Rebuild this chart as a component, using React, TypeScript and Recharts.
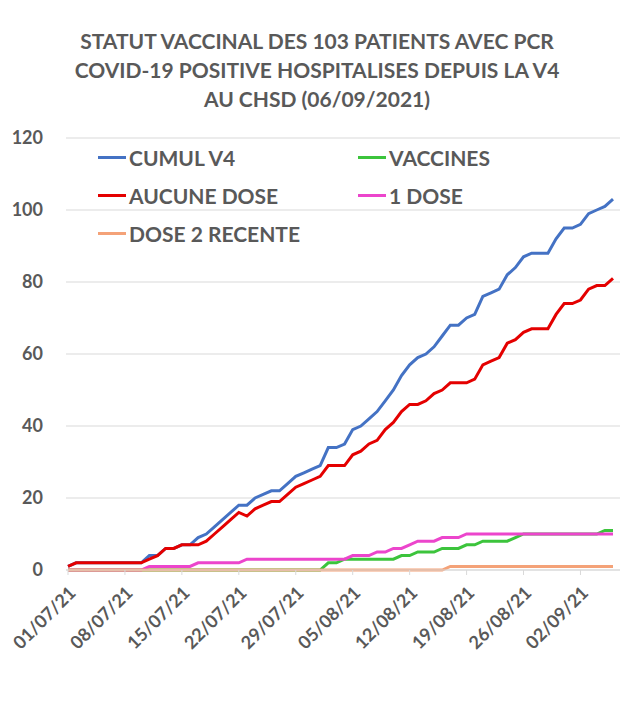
import React from 'react';
import { LineChart, Line, XAxis, YAxis, CartesianGrid } from 'recharts';

// one point per day, 01/07/21 -> 06/09/21
const startDay = new Date(2021, 6, 1);
const dates: string[] = Array.from({ length: 68 }, (_, i) => {
  const d = new Date(startDay.getFullYear(), startDay.getMonth(), startDay.getDate() + i);
  const dd = String(d.getDate()).padStart(2, '0');
  const mm = String(d.getMonth() + 1).padStart(2, '0');
  return `${dd}/${mm}/21`;
});

const cumulV4 = [
  1, 2, 2, 2, 2, 2, 2, 2, 2, 2, 4, 4, 6, 6, 7, 7, 9, 10, 12, 14,
  16, 18, 18, 20, 21, 22, 22, 24, 26, 27, 28, 29, 34, 34, 35, 39, 40, 42, 44, 47,
  50, 54, 57, 59, 60, 62, 65, 68, 68, 70, 71, 76, 77, 78, 82, 84, 87, 88, 88, 88,
  92, 95, 95, 96, 99, 100, 101, 103,
];
const vaccines = [
  0, 0, 0, 0, 0, 0, 0, 0, 0, 0, 0, 0, 0, 0, 0, 0, 0, 0, 0, 0,
  0, 0, 0, 0, 0, 0, 0, 0, 0, 0, 0, 0, 2, 2, 3, 3, 3, 3, 3, 3,
  3, 4, 4, 5, 5, 5, 6, 6, 6, 7, 7, 8, 8, 8, 8, 9, 10, 10, 10, 10,
  10, 10, 10, 10, 10, 10, 11, 11,
];
const aucuneDose = [
  1, 2, 2, 2, 2, 2, 2, 2, 2, 2, 3, 4, 6, 6, 7, 7, 7, 8, 10, 12,
  14, 16, 15, 17, 18, 19, 19, 21, 23, 24, 25, 26, 29, 29, 29, 32, 33, 35, 36, 39,
  41, 44, 46, 46, 47, 49, 50, 52, 52, 52, 53, 57, 58, 59, 63, 64, 66, 67, 67, 67,
  71, 74, 74, 75, 78, 79, 79, 81,
];
const uneDose = [
  0, 0, 0, 0, 0, 0, 0, 0, 0, 0, 1, 1, 1, 1, 1, 1, 2, 2, 2, 2,
  2, 2, 3, 3, 3, 3, 3, 3, 3, 3, 3, 3, 3, 3, 3, 4, 4, 4, 5, 5,
  6, 6, 7, 8, 8, 8, 9, 9, 9, 10, 10, 10, 10, 10, 10, 10, 10, 10, 10, 10,
  10, 10, 10, 10, 10, 10, 10, 10,
];
const dose2Recente = [
  0, 0, 0, 0, 0, 0, 0, 0, 0, 0, 0, 0, 0, 0, 0, 0, 0, 0, 0, 0,
  0, 0, 0, 0, 0, 0, 0, 0, 0, 0, 0, 0, 0, 0, 0, 0, 0, 0, 0, 0,
  0, 0, 0, 0, 0, 0, 0, 1, 1, 1, 1, 1, 1, 1, 1, 1, 1, 1, 1, 1,
  1, 1, 1, 1, 1, 1, 1, 1,
];
const yTicks = [0, 20, 40, 60, 80, 100, 120];

const series = [
  { key: 'cumul', name: 'CUMUL V4', color: '#4472C4', values: cumulV4 },
  { key: 'vacc', name: 'VACCINES', color: '#3CC43C', values: vaccines },
  { key: 'aucune', name: 'AUCUNE DOSE', color: '#E40000', values: aucuneDose },
  { key: 'une', name: '1 DOSE', color: '#EC45CC', values: uneDose },
  { key: 'dose2', name: 'DOSE 2 RECENTE', color: '#F4A278', values: dose2Recente },
];

const data = dates.map((date, i) => {
  const row: Record<string, string | number> = { date };
  series.forEach((s) => (row[s.key] = s.values[i]));
  return row;
});

const FONT = 'Lato, "Open Sans", sans-serif';
const GREY = '#595959';

const DateTick = ({ x, y, payload }: any) => (
  <g transform={`translate(${x + 9},${y + 17})`}>
    <text
      x={0}
      y={0}
      textAnchor="end"
      transform="rotate(-45)"
      fill={GREY}
      fontSize={18}
      fontWeight={700}
      fontFamily={FONT}
    >
      {payload.value}
    </text>
  </g>
);

const ChartLegend = () => (
  <div style={{ position: 'absolute', left: 98, top: 144, width: 520, height: 120, fontFamily: FONT }}>
    {series.map((s, i) => (
      <div
        key={s.key}
        style={{
          position: 'absolute',
          left: i % 2 === 0 ? 0 : 260,
          top: Math.floor(i / 2) * 38,
          height: 26,
          display: 'flex',
          alignItems: 'center',
          fontSize: 21,
          fontWeight: 700,
          color: GREY,
          whiteSpace: 'nowrap',
        }}
      >
        <span style={{ display: 'inline-block', width: 28, height: 3, background: s.color, marginRight: 3 }} />
        {s.name}
      </div>
    ))}
  </div>
);

export default function App() {
  return (
    <div style={{ position: 'absolute', left: 0, top: 0, width: 634, height: 724, background: '#fff' }}>
      <LineChart
        width={634}
        height={724}
        data={data}
        margin={{ top: 138, right: 14, bottom: 74, left: 8 }}
        style={{ position: 'absolute', left: 0, top: 0 }}
      >
        <CartesianGrid vertical={false} stroke="#d9d9d9" strokeWidth={1} />
        <XAxis
          dataKey="date"
          interval={6}
          tick={<DateTick />}
          tickSize={5}
          tickLine={{ stroke: '#d9d9d9' }}
          axisLine={{ stroke: '#d9d9d9' }}
          padding={{ left: 2, right: 7 }}
          height={80}
        />
        <YAxis
          domain={[0, 120]}
          ticks={yTicks}
          width={58}
          axisLine={false}
          tickLine={false}
          tickSize={0}
          tickMargin={23}
          tick={{ fill: GREY, fontSize: 18, fontWeight: 700, fontFamily: FONT }}
        />
        {series.map((s) => (
          <Line
            key={s.key}
            type="linear"
            dataKey={s.key}
            name={s.name}
            stroke={s.color}
            strokeWidth={3}
            dot={false}
            activeDot={false}
            isAnimationActive={false}
          />
        ))}
      </LineChart>
      <div
        style={{
          position: 'absolute',
          top: 26,
          left: 0,
          width: 634,
          textAlign: 'center',
          fontFamily: FONT,
          fontWeight: 700,
          fontSize: 21,
          lineHeight: '29px',
          color: GREY,
        }}
      >
        STATUT VACCINAL DES 103 PATIENTS AVEC PCR
        <br />
        COVID-19 POSITIVE HOSPITALISES DEPUIS LA V4
        <br />
        AU CHSD (06/09/2021)
      </div>
      <ChartLegend />
    </div>
  );
}
